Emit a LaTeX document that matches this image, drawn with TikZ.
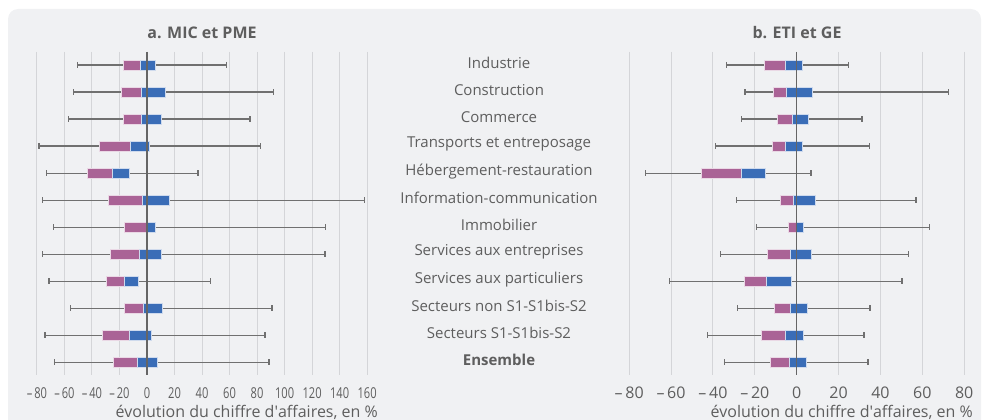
\documentclass[tikz,border=0pt]{standalone}
\usepackage{fontspec}
\usepackage{graphicx}
\setmainfont{Open Sans}
\usetikzlibrary{calc}
\definecolor{fond}{HTML}{F0F1F3}
\definecolor{grille}{HTML}{D4D5D8}
\definecolor{texte}{HTML}{5E5E5E}
\definecolor{moust}{HTML}{707070}
\definecolor{rose}{HTML}{AA6396}
\definecolor{bleu}{HTML}{3A6DB7}
\tikzset{
  lab/.style={text=texte, inner sep=0pt},
  grid line/.style={grille, line width=1pt},
  whisk/.style={moust, line width=1.2pt},
  boxA/.style={fill=rose, draw=white!75!rose, line width=0.8pt},
  boxB/.style={fill=bleu, draw=white!75!bleu, line width=0.8pt},
  zero line/.style={moust!90!black, line width=1.5pt}
}

\begin{document}
\begin{tikzpicture}[x=1pt, y=-1pt, font=\fontsize{16}{18}\selectfont]
\useasboundingbox (0,0) rectangle (983,420);
\clip (0,0) rectangle (983,420);
% fond
\fill[fond, rounded corners=10pt] (8,9) rectangle (981,450);

% titres des panneaux
\node[lab, font=\fontsize{16}{18}\selectfont\bfseries] (titreA) at (202,33) {a. MIC et PME};
\node[lab, font=\fontsize{16}{18}\selectfont\bfseries] (titreB) at (797,33) {b. ETI et GE};

% grilles
\foreach \v in {-80,-60,...,160}
  \draw[grid line] ({147+1.376*\v},52) -- ({147+1.376*\v},375);
\foreach \v in {-80,-60,...,80}
  \draw[grid line] ({796.7+2.094*\v},52) -- ({796.7+2.094*\v},375);

% graduations (resserrees a gauche)
\foreach \v/\t in {-80/{\textendash\,80},-60/{\textendash\,60},-40/{\textendash\,40},-20/{\textendash\,20},0/0,20/20,40/40,60/60,80/80,100/100,120/120,140/140,160/160}
  \node[lab, anchor=base, font=\fontsize{15}{17}\selectfont] (ga\v) at ({147+1.376*\v},398) {\scalebox{0.74}[1]{\t}};
\foreach \v/\t in {-80/{\textendash\,80},-60/{\textendash\,60},-40/{\textendash\,40},-20/{\textendash\,20},0/0,20/20,40/40,60/60,80/80}
  \node[lab, anchor=base] (gb\v) at ({796.7+2.094*\v},398) {\t};
\node[lab, anchor=base east] (axeA) at (378,417) {évolution du chiffre d\textquotesingle affaires, en \%};
\node[lab, anchor=base east] (axeB) at (973,417) {évolution du chiffre d\textquotesingle affaires, en \%};

% secteurs
\foreach \r/\nom in {1/Industrie, 2/Construction, 3/Commerce, 4/Transports et entreposage,
  5/Hébergement-restauration, 6/Information-communication, 7/Immobilier,
  8/Services aux entreprises, 9/Services aux particuliers, 10/Secteurs non S1-S1bis-S2,
  11/Secteurs S1-S1bis-S2, 12/\textbf{Ensemble}}
  \node[lab, font=\fontsize{15}{17}\selectfont] (sect\r) at (499,{63+27.03*(\r-1)}) {\nom};

% a. MIC et PME
\foreach \r/\wl/\ql/\md/\qh/\wh in {1/-50.4/-17.4/-5.1/5.8/57.9, 2/-53.3/-18.7/-3.9/13.1/91.8,
  3/-57.2/-17.4/-3.9/10.2/74.9, 4/-78.5/-34.9/-12.4/1.5/82.4, 5/-72.9/-43.1/-25.2/-12.6/37.1,
  6/-76.1/-27.8/-3.1/16.5/157.9, 7/-68.1/-16.2/0/5.8/129.9, 8/-75.8/-26.9/-5.6/10.7/129.4,
  9/-71.2/-29.8/-16.7/-6.3/46.3, 10/-55.5/-16.5/-2.7/11.1/90.8, 11/-74.1/-32.7/-13.1/2.9/85.8,
  12/-67.1/-24.5/-6.8/7.3/88.7}
{
  \pgfmathsetmacro\y{65+27.03*(\r-1)}
  \draw[whisk] ({147+1.376*\wl},\y) -- ({147+1.376*\wh},\y);
  \draw[whisk] ({147+1.376*\wl},\y-3) -- ++(0,6);
  \draw[whisk] ({147+1.376*\wh},\y-3) -- ++(0,6);
  \filldraw[boxA] ({147+1.376*\ql},\y-5) rectangle ({147+1.376*\md},\y+5);
  \filldraw[boxB] ({147+1.376*\md},\y-5) rectangle ({147+1.376*\qh},\y+5);
}
\draw[zero line] (147,52) -- (147,375);

% b. ETI et GE
\foreach \r/\wl/\ql/\md/\qh/\wh in {1/-33.4/-15.3/-5.6/2.5/24.6, 2/-24.7/-11.3/-5.1/7.3/72.6,
  3/-26.3/-9.4/-1.9/5.6/31.2, 4/-38.9/-11.5/-5.4/2.7/34.7, 5/-72.1/-45.6/-26.5/-15.0/6.8,
  6/-28.8/-8.0/-1.6/8.9/57.0, 7/-19.1/-3.8/0/3.2/63.3, 8/-36.3/-14.0/-3.2/7.2/53.3,
  9/-60.6/-25.2/-14.5/-2.4/50.3, 10/-28.4/-10.8/-2.9/4.9/35.0, 11/-42.7/-16.7/-5.6/3.3/32.1,
  12/-34.6/-12.6/-3.5/4.6/34.0}
{
  \pgfmathsetmacro\y{65+27.03*(\r-1)}
  \draw[whisk] ({796.7+2.094*\wl},\y) -- ({796.7+2.094*\wh},\y);
  \draw[whisk] ({796.7+2.094*\wl},\y-3) -- ++(0,6);
  \draw[whisk] ({796.7+2.094*\wh},\y-3) -- ++(0,6);
  \filldraw[boxA] ({796.7+2.094*\ql},\y-5) rectangle ({796.7+2.094*\md},\y+5);
  \filldraw[boxB] ({796.7+2.094*\md},\y-5) rectangle ({796.7+2.094*\qh},\y+5);
}
\draw[zero line] (796.7,52) -- (796.7,375);
\end{tikzpicture}
\end{document}
